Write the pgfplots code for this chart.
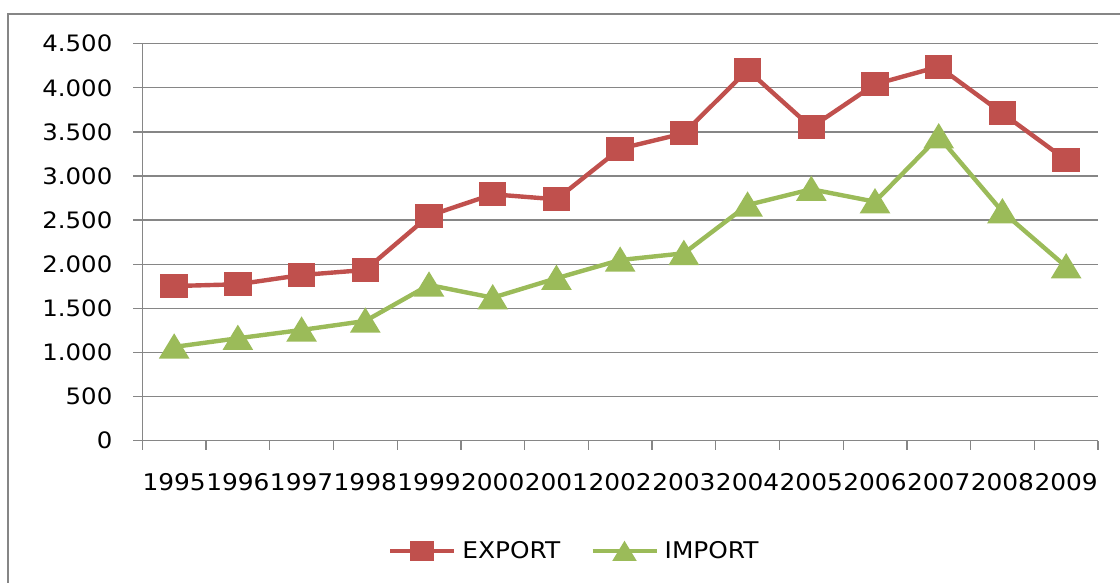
\documentclass[border=0pt]{standalone}
\usepackage{fontspec}
\setmainfont[FakeStretch=1.08]{DejaVu Sans}
\usepackage{pgfplots}
\pgfplotsset{compat=1.18}
\definecolor{exred}{HTML}{C0504D}
\definecolor{imgreen}{HTML}{9BBB59}
\definecolor{gridgray}{HTML}{868686}
\begin{document}
\begin{tikzpicture}
\clip (0,0) rectangle (560pt,291.5pt);
\draw[gridgray, line width=0.9pt] (3.85pt,-20pt) -- (3.85pt,284.5pt) -- (600pt,284.5pt);
\begin{axis}[
  at={(71.15pt,71.15pt)}, anchor=south west,
  scale only axis, width=477.85pt, height=198.5pt,
  xmin=0.5, xmax=15.5, ymin=0, ymax=4500,
  ytick={0,500,...,4500},
  xtick={0.5,1.5,...,15.5},
  xticklabels={1995,1996,1997,1998,1999,2000,2001,2002,2003,2004,2005,2006,2007,2008,2009,{}},
  axis x line=bottom, axis y line=left,
  axis line style={gridgray, line width=0.65pt, -},
  ymajorgrids, grid style={gridgray, line width=0.65pt},
  tick align=outside, major tick length=4.5pt,
  tick style={gridgray, line width=0.65pt},
  /pgf/number format/.cd, 1000 sep={.}, assume math mode=true, /pgfplots/.cd,
  yticklabel style={font=\fontsize{11.3}{13}\selectfont, anchor=east, inner sep=0pt, xshift=-10.3pt},
  xticklabel style={font=\fontsize{11.5}{13}\selectfont, anchor=base, inner sep=0pt, yshift=-20.65pt, xshift=15.93pt},
  legend style={at={(0.451,-0.2778)}, anchor=center, draw=none, fill=none,
    legend columns=2, font=\fontsize{11.5}{13}\selectfont,
    nodes={inner sep=0pt},
    /tikz/every odd column/.append style={column sep=3pt},
    /tikz/every even column/.append style={column sep=15pt}},
  legend image code/.code={\draw[mark repeat=2,mark phase=2] plot coordinates {(0pt,0pt) (16pt,0pt) (32pt,0pt)};},
  clip=false,
]
\addplot[exred, line width=2.2pt, mark=square*, mark size=4.9pt,
  mark options={draw=none, fill=exred, xscale=1.18},
  legend image post style={mark size=4.1pt}] coordinates {
  (1,1753) (2,1773) (3,1878) (4,1935) (5,2550) (6,2793) (7,2736) (8,3310)
  (9,3484) (10,4202) (11,3552) (12,4040) (13,4240) (14,3711) (15,3182)};
\addlegendentry{EXPORT}
\addplot[imgreen, line width=2.2pt, mark=triangle*, mark size=6.3pt,
  mark options={draw=none, fill=imgreen, xscale=1.05, yshift=-1.6pt},
  legend image post style={mark size=4.6pt}] coordinates {
  (1,1063) (2,1161) (3,1255) (4,1357) (5,1765) (6,1621) (7,1841) (8,2048)
  (9,2124) (10,2672) (11,2850) (12,2709) (13,3446) (14,2596) (15,1972)};
\addlegendentry{IMPORT}
\end{axis}
\end{tikzpicture}
\end{document}
